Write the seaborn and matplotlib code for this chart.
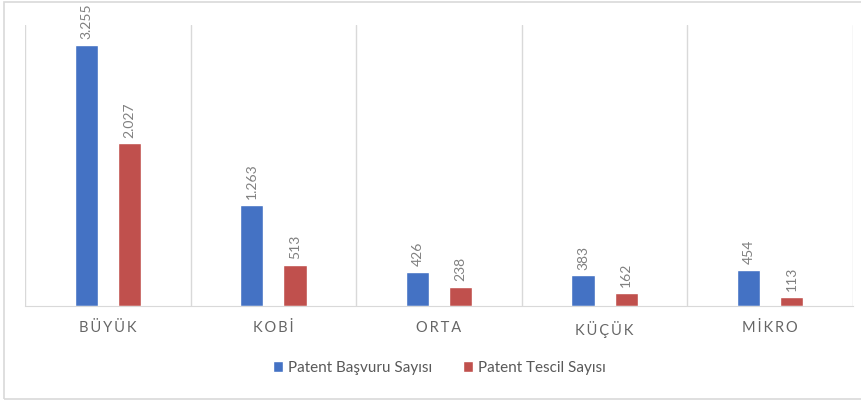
import matplotlib
matplotlib.use("Agg")
import matplotlib.pyplot as plt
from matplotlib.patches import Rectangle
import seaborn as sns
import pandas as pd
import numpy as np

# Data
kategoriler = ['BÜYÜK', 'KOBİ', 'ORTA', 'KÜÇÜK', 'MİKRO']
basvuru = [3255, 1263, 426, 383, 454]
tescil = [2027, 513, 238, 162, 113]
seriler = ['Patent Başvuru Sayısı', 'Patent Tescil Sayısı']

df = pd.DataFrame({
    'kategori': kategoriler * 2,
    'deger': basvuru + tescil,
    'seri': [seriler[0]] * len(kategoriler) + [seriler[1]] * len(kategoriler),
})

sns.set_style('white')
plt.rcParams['font.family'] = ['Lato', 'DejaVu Sans']

fig = plt.figure(figsize=(8.61, 4.01), dpi=100)
ax = fig.add_axes([25 / 861, 95 / 401, 828 / 861, 281 / 401])

sns.barplot(data=df, x='kategori', y='deger', hue='seri', order=kategoriler,
            hue_order=seriler, palette=['#4472C4', '#C0504D'], saturation=1,
            width=0.52, gap=0.46, ax=ax)

# value labels, Turkish thousands separator
for cont in ax.containers:
    labels = [f"{v:,.0f}".replace(',', '.') for v in cont.datavalues]
    ax.bar_label(cont, labels=labels, rotation=90, padding=4, fontsize=10,
                 color='#808080', clip_on=False)

ax.set_ylim(0, 3500)
ax.set_xlim(-0.5, 4.5)
ax.set_yticks([])
ax.set_xlabel('')
ax.set_ylabel('')
ax.set_xticks(range(len(kategoriler)))
ax.set_xticklabels(['\u2009'.join(k) for k in kategoriler], fontsize=10.5, color='#666666')
ax.tick_params(axis='x', length=0, pad=11)

# category separators
ax.set_xticks(np.arange(-0.5, 5, 1), minor=True)
ax.tick_params(axis='x', which='minor', length=0)
ax.grid(which='minor', axis='x', color='#d9d9d9', linewidth=1)
ax.set_axisbelow(True)

for s in ['top', 'left', 'right']:
    ax.spines[s].set_visible(False)
ax.spines['bottom'].set_color('#d9d9d9')

handles, labs = ax.get_legend_handles_labels()
ax.get_legend().remove()
fig.legend(handles, labs, loc='center', bbox_to_anchor=(0.51, 0.082), ncol=2,
           frameon=False, fontsize=11, handlelength=0.7, handleheight=0.7,
           handletextpad=0.3, columnspacing=2.0, labelcolor='#595959')

fig.patches.append(Rectangle((0.005, 0.005), 1.5, 0.99, transform=fig.transFigure,
                             fill=False, edgecolor='#d9d9d9', linewidth=1.2))

fig.savefig('out.png', dpi=100)
